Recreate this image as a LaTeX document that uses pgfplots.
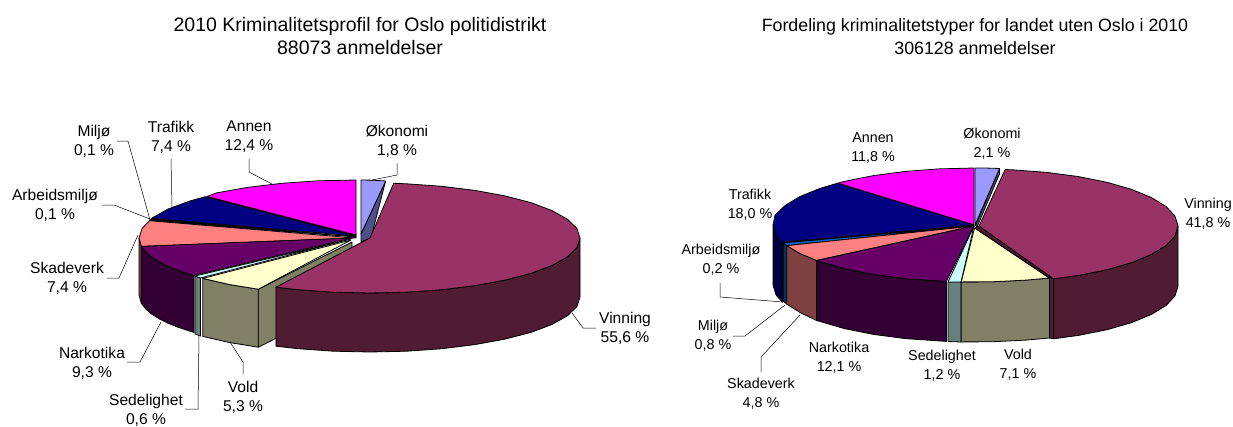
\documentclass[border=0pt]{standalone}
\usepackage{fontspec}
\setmainfont{Liberation Sans}
\usepackage{pgfplots}
\pgfplotsset{compat=1.18}

\definecolor{okoT}{HTML}{9999FF}\definecolor{okoS}{HTML}{50508A}
\definecolor{vinT}{HTML}{993366}\definecolor{vinS}{HTML}{4F1C33}
\definecolor{volT}{HTML}{FFFFCC}\definecolor{volS}{HTML}{808066}
\definecolor{sedT}{HTML}{CCFFFF}\definecolor{sedS}{HTML}{668080}
\definecolor{narT}{HTML}{660066}\definecolor{narS}{HTML}{330033}
\definecolor{skaT}{HTML}{FF8080}\definecolor{skaS}{HTML}{804040}
\definecolor{milT}{HTML}{0066CC}\definecolor{milS}{HTML}{003366}
\definecolor{arbT}{HTML}{CCCCFF}
\definecolor{traT}{HTML}{000080}\definecolor{traS}{HTML}{000040}
\definecolor{annT}{HTML}{FF00FF}\definecolor{annS}{HTML}{800080}

\pgfplotsset{
  sl/.style={fill=#1, draw=black, line width=0.8pt, line join=round, mark=none},
  lead/.style={draw=black, line width=0.5pt, mark=none},
}
% font size, line skip, x, y, text (axis content is deferred, so sizes go in directly)
\newcommand{\lab}[5]{\node[align=center, inner sep=0pt, font=\fontsize{#1}{#2}\selectfont] at (axis cs:#3,#4) {#5};}
\newcommand{\labL}[3]{\lab{15.6}{19}{#1}{#2}{#3}}
\newcommand{\labR}[3]{\lab{14.3}{19}{#1}{#2}{#3}}

\begin{document}
\begin{tikzpicture}
\begin{axis}[
    width=1233pt, height=425pt, scale only axis,
    xmin=0, xmax=1233, ymin=0, ymax=425,
    y dir=reverse, hide axis, clip=false,
]
% keep the whole canvas in the bounding box
\path (axis cs:0,0) -- (axis cs:1233,425);

% left pie: back slices first
\addplot[sl=annS] coordinates {(207,196.5) (356,234) (356,238) (205,199.5) (207,196.5)};
\addplot[sl=annT] coordinates {(207,196.5) (216.5,192.9) (247.5,187.4) (281.8,183.3) (318.2,180.8) (356,180) (356,235) (207,196.5)};
\addplot[sl=okoS] coordinates {(385.6,181) (361,234) (361,242) (371,238) (385.6,181)};
\addplot[sl=okoT] coordinates {(361,180) (373.5,180.2) (385.6,181) (361,234) (361,180)};
\addplot[sl=traT] coordinates {(151.4,218.4) (168.1,209) (189.8,201) (205.2,196.7) (356,236) (151.4,218.4)};
\addplot[sl=black] coordinates {(149.6,220.7) (151.4,218.4) (356,237) (149.6,220.7)};
\addplot[sl=skaS] coordinates {(141.4,246.4) (139,238) (139,295) (141.4,303.4) (141.4,246.4)};
\addplot[sl=skaT] coordinates {(141.4,246.4) (139,238) (142.2,228.3) (149.6,220.7) (355,238) (141.4,246.4)};
\addplot[sl=narS] coordinates {(194,275.5) (177.6,270.1) (167.5,266) (159,261.7) (151.8,257.2) (146.2,252.5) (141.3,246.4) (141.3,303.4) (146.2,309.5) (151.8,314.2) (159,318.7) (167.5,323) (177.6,327.1) (194,332.5) (194,275.5)};
\addplot[sl=narT] coordinates {(194,275.5) (177.6,270.1) (167.5,266) (159,261.7) (151.8,257.2) (146.2,252.5) (141.3,246.4) (352,238) (194,275.5)};
\addplot[sl=sedS] coordinates {(195,276) (200.5,278) (200.5,336) (195,334) (195,276)};
\addplot[sl=sedT] coordinates {(195,276) (200.5,278) (351,239) (195,276)};
\addplot[sl=volS] coordinates {(258.3,289.2) (352,242) (352,300) (258.3,347.2) (258.3,289.2)};
\addplot[sl=volS] coordinates {(258.3,289.2) (229.3,284.5) (202.8,278.4) (202.8,336.4) (229.3,342.5) (258.3,347.2) (258.3,289.2)};
\addplot[sl=volT] coordinates {(258.3,289.2) (229.3,284.5) (202.8,278.4) (351,240) (258.3,289.2)};
\addplot[sl=vinS] coordinates {(580,238) (576.9,247.6) (567.4,256.8) (551.9,265.5) (530.9,273.4) (505,280.1) (475,285.6) (441.8,289.7) (406.5,292.2) (370,293) (333.5,292.2) (298.2,289.7) (275.9,287.2) (275.9,346.2) (298.2,348.7) (333.5,351.2) (370,352) (406.5,351.2) (441.8,348.7) (475,344.6) (505,339.1) (530.9,332.4) (551.9,324.5) (567.4,315.8) (576.9,306.6) (580,297) (580,238)};
\addplot[sl=vinT] coordinates {(393.7,183.3) (406.5,183.8) (441.8,186.3) (475,190.4) (505,195.9) (530.9,202.6) (551.9,210.5) (567.4,219.2) (576.9,228.4) (580,238) (576.9,247.6) (567.4,256.8) (551.9,265.5) (530.9,273.4) (505,280.1) (475,285.6) (441.8,289.7) (406.5,292.2) (370,293) (333.5,292.2) (298.2,289.7) (275.9,287.2) (370,238) (393.7,183.3)};

% left leaders
\addplot[lead] coordinates {(117,141) (128,141) (150,220)};
\addplot[lead] coordinates {(102,205) (114,205) (150,219)};
\addplot[lead] coordinates {(171,159) (172,207)};
\addplot[lead] coordinates {(249,159) (249,172) (272,184)};
\addplot[lead] coordinates {(397,163) (397,175) (372,180)};
\addplot[lead] coordinates {(107,278) (119,278) (138,235)};
\addplot[lead] coordinates {(127,362) (140,362) (161,322)};
\addplot[lead] coordinates {(185,409) (198,409) (199,335)};
\addplot[lead] coordinates {(243,374) (243,362) (230,342)};
\addplot[lead] coordinates {(596,328) (583,328) (572,313)};

% right pie
\addplot[sl=annT] coordinates {(837.5,183.2) (844.8,181.3) (873.5,175.6) (905.3,171.4) (939,168.9) (974,168) (974,225) (837.5,183.2)};
\addplot[sl=okoS] coordinates {(999.5,168.5) (975.5,225.5) (977,227) (999.5,174) (999.5,168.5)};
\addplot[sl=okoT] coordinates {(975,168) (988.3,168.1) (999.5,168.5) (975,225) (975,168)};
\addplot[sl=traS] coordinates {(782.4,242.2) (776,234.9) (773,225) (773,285) (776,294.9) (782.4,302.2) (782.4,242.2)};
\addplot[sl=traT] coordinates {(782.4,242.2) (776,234.9) (773,225) (775,215.1) (785.1,205.5) (800,196.5) (820,188.4) (837.5,183.2) (974,225) (782.4,242.2)};
\addplot[sl=arbT] coordinates {(783.2,242.9) (782.4,242.2) (974,225.5) (783.2,242.9)};
\addplot[sl=milS] coordinates {(786.7,245.6) (783.2,242.9) (783.2,301) (786.7,304) (786.7,245.6)};
\addplot[sl=milT] coordinates {(786.7,245.6) (783.2,242.9) (974,226) (786.7,245.6)};
\addplot[sl=skaS] coordinates {(786.7,245.6) (800,253.5) (816.6,260.5) (816.6,320.5) (800,312.5) (786.7,304) (786.7,245.6)};
\addplot[sl=skaT] coordinates {(816.6,260.5) (800,253.5) (786.7,245.6) (974,226) (816.6,260.5)};
\addplot[sl=narS] coordinates {(816.6,260.5) (844.8,268.7) (873.5,274.4) (905.3,278.6) (946.4,281.4) (946.4,341.4) (905.3,338.6) (873.5,334.4) (844.8,328.7) (816.6,320.5) (816.6,260.5)};
\addplot[sl=narT] coordinates {(816.6,260.5) (844.8,268.7) (873.5,274.4) (905.3,278.6) (946.4,281.4) (974,226) (816.6,260.5)};
\addplot[sl=sedS] coordinates {(948,282) (961,282) (961,342) (948,341.5) (948,282)};
\addplot[sl=sedT] coordinates {(948,282) (961,282) (974,226) (948,282)};
\addplot[sl=volS] coordinates {(1049.4,278) (1026,280.1) (991.5,281.8) (961.3,281.9) (961.3,341.9) (991.5,341.8) (1026,340.1) (1049.4,338) (1049.4,278)};
\addplot[sl=volT] coordinates {(1049.4,278) (1026,280.1) (991.5,281.8) (961.3,281.9) (974.5,228) (1049.4,278)};
\addplot[sl=vinS] coordinates {(1053.6,278.8) (979,226) (975,228) (1049.4,278) (1053.6,278.8)};
\addplot[sl=vinS] coordinates {(1049.4,278) (1053.6,278.8) (1053.6,338.8) (1049.4,338) (1049.4,278)};
\addplot[sl=vinS] coordinates {(1178,226) (1175,235.9) (1166.1,245.5) (1151.3,254.5) (1131.4,262.7) (1107,269.7) (1078.5,275.4) (1053.6,278.8) (1053.6,338.8) (1078.5,335.4) (1107,329.7) (1131.4,322.7) (1151.3,314.5) (1166.1,305.5) (1175,295.9) (1178,286) (1178,226)};
\addplot[sl=vinT] coordinates {(1005.2,169.5) (1013.6,169.9) (1047.1,172.4) (1078.5,176.6) (1107,182.3) (1131.4,189.3) (1151.3,197.5) (1166.1,206.5) (1175,216.1) (1178,226) (1175,235.9) (1166.1,245.5) (1151.3,254.5) (1131.4,262.7) (1107,269.7) (1078.5,275.4) (1053.6,278.8) (979,226) (1005.2,169.5)};

% right leaders
\addplot[lead] coordinates {(720,283) (720,297) (783,302)};
\addplot[lead] coordinates {(733,336) (745,336) (785,305)};
\addplot[lead] coordinates {(761,372) (761,357) (800,315)};

% titles
\lab{19.5}{23}{360}{36.5}{2010 Kriminalitetsprofil for Oslo politidistrikt\\88073 anmeldelser}
\lab{17.8}{23}{975}{36.5}{Fordeling kriminalitetstyper for landet uten Oslo i 2010\\306128 anmeldelser}

% left labels
\labL{94}{141}{Miljø\\0,1 \%}
\labL{171}{137}{Trafikk\\7,4 \%}
\labL{249}{137}{Annen\\12,4 \%}
\labL{397}{141}{Økonomi\\1,8 \%}
\labL{55}{205}{Arbeidsmiljø\\0,1 \%}
\labL{67}{278}{Skadeverk\\7,4 \%}
\labL{92}{363}{Narkotika\\9,3 \%}
\labL{146}{410}{Sedelighet\\0,6 \%}
\labL{243}{397}{Vold\\5,3 \%}
\labL{625}{328}{Vinning\\55,6 \%}

% right labels
\labR{873}{148}{Annen\\11,8 \%}
\labR{992}{144}{Økonomi\\2,1 \%}
\labR{750}{204.5}{Trafikk\\18,0 \%}
\labR{721}{260}{Arbeidsmiljø\\0,2 \%}
\labR{713}{336}{Miljø\\0,8 \%}
\labR{761}{394}{Skadeverk\\4,8 \%}
\labR{839}{358}{Narkotika\\12,1 \%}
\labR{942}{366}{Sedelighet\\1,2 \%}
\labR{1018}{365}{Vold\\7,1 \%}
\labR{1208}{214}{Vinning\\41,8 \%}
\end{axis}
\end{tikzpicture}
\end{document}
